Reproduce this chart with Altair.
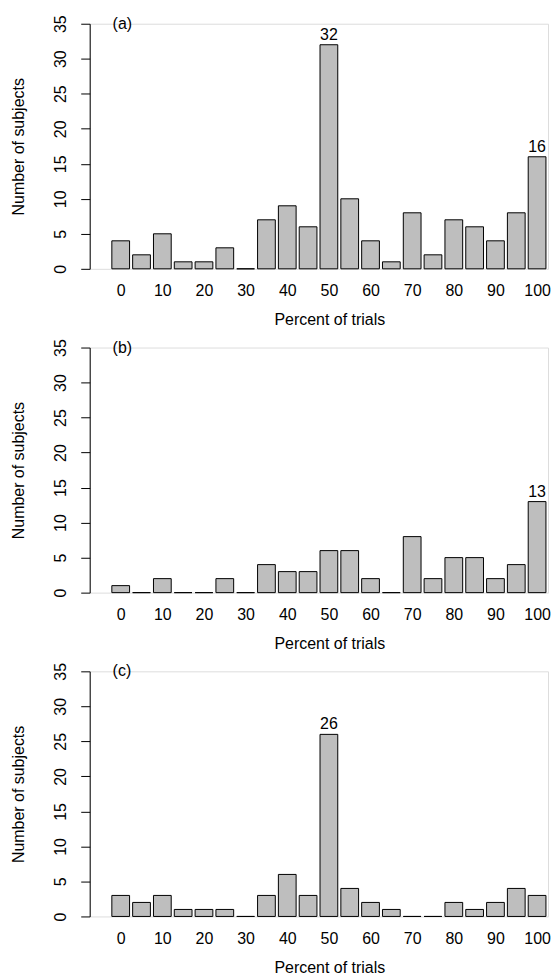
import altair as alt
import pandas as pd

percent = list(range(0, 101, 5))
counts_a = [4, 2, 5, 1, 1, 3, 0, 7, 9, 6, 32, 10, 4, 1, 8, 2, 7, 6, 4, 8, 16]
counts_b = [1, 0, 2, 0, 0, 2, 0, 4, 3, 3, 6, 6, 2, 0, 8, 2, 5, 5, 2, 4, 13]
counts_c = [3, 2, 3, 1, 1, 1, 0, 3, 6, 3, 26, 4, 2, 1, 0, 0, 2, 1, 2, 4, 3]
labelled_a = [50, 100]
labelled_b = [100]
labelled_c = [50]
tags = ["(a)", "(b)", "(c)"]
x_ticks = list(range(0, 101, 10))
y_ticks = list(range(0, 36, 5))

FONT = "Liberation Sans"
W, H = 460, 246
X_DOMAIN = [-6.25, -6.25 + W * 5 / 21.36]


def panel(counts, labelled, tag):
    df = pd.DataFrame({
        "percent": percent,
        "count": counts,
        "label": [str(c) if p in labelled else "" for p, c in zip(percent, counts)],
    })
    x = alt.X(
        "percent:Q",
        scale=alt.Scale(domain=X_DOMAIN, nice=False, zero=False),
        axis=alt.Axis(
            values=x_ticks, domain=False, ticks=False, grid=False,
            labelFontSize=16, labelPadding=22, labelBaseline="middle",
            labelColor="black", labelFont=FONT, labelFlush=False, labelOverlap=False,
            title="Percent of trials", titleFontSize=16, titleFont=FONT,
            titleFontWeight="normal", titleColor="black",
            titleX=240.5, titleY=51, titleBaseline="middle", titleAlign="center",
        ),
    )
    y = alt.Y(
        "count:Q",
        scale=alt.Scale(domain=[0, 35], nice=False),
        axis=alt.Axis(
            values=y_ticks, grid=False, domainColor="black", tickColor="black",
            tickSize=9, labelAngle=270, labelAlign="center", labelBaseline="middle",
            labelPadding=20, labelFontSize=16, labelFont=FONT, labelColor="black",
            labelFlush=False, labelOverlap=False,
            title="Number of subjects", titleFontSize=16, titleFont=FONT,
            titleFontWeight="normal", titleColor="black", titleAngle=270,
            titleX=-71, titleY=H / 2, titleBaseline="middle", titleAlign="center",
        ),
    )
    base = alt.Chart(df)
    bars = base.mark_bar(size=17.8, fill="#BEBEBE", stroke="black", strokeWidth=1).encode(x=x, y=y)
    labels = base.transform_filter(alt.datum.label != "").mark_text(
        baseline="bottom", dy=-2, fontSize=16, font=FONT, color="black"
    ).encode(x=x, y=y, text="label:N")
    tag_chart = alt.Chart(pd.DataFrame({"tag": [tag]})).mark_text(
        align="left", baseline="middle", fontSize=16, font=FONT, color="black"
    ).encode(x=alt.value(23), y=alt.value(0), text="tag:N")
    return alt.layer(bars, labels, tag_chart).properties(width=W, height=H)


chart = alt.vconcat(
    panel(counts_a, labelled_a, tags[0]),
    panel(counts_b, labelled_b, tags[1]),
    panel(counts_c, labelled_c, tags[2]),
    spacing=79,
    bounds="flush",
).properties(
    padding={"left": 2, "top": 4, "right": 0, "bottom": 0}
).configure_view(stroke=None).configure(font=FONT, background="white")

chart.save("out.html", embed_options={"renderer": "svg", "actions": False})
